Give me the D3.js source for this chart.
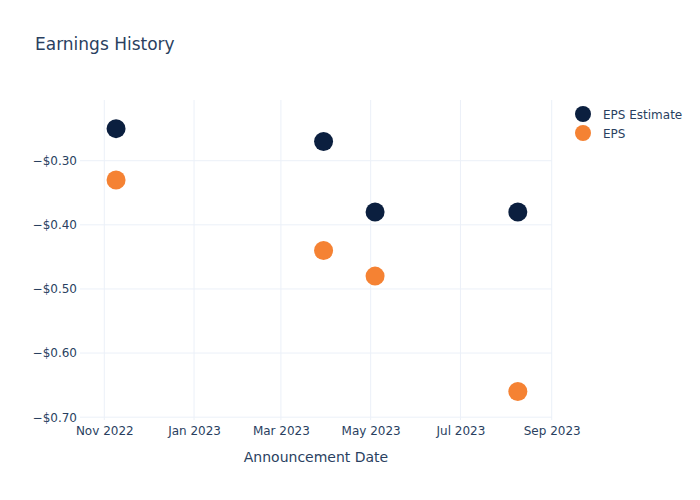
<!DOCTYPE html>
<html>
<head>
<meta charset="utf-8">
<script src="https://cdn.jsdelivr.net/npm/d3@7"></script>
<style>
  body { margin: 0; background: #fff; }
  svg, svg text { font-family: "DejaVu Sans", Verdana, sans-serif; }
</style>
</head>
<body>
<svg id="chart" width="700" height="500"></svg>
<script>
const dates = ["2022-11-09", "2023-03-30", "2023-05-04", "2023-08-09"];
const epsEstimate = [-0.25, -0.27, -0.38, -0.38];
const eps = [-0.33, -0.44, -0.48, -0.66];
const seriesNames = ["EPS Estimate", "EPS"];
const seriesColors = ["#0b1f3f", "#f58233"];
const yTicks = [-0.3, -0.4, -0.5, -0.6, -0.7];

const svg = d3.select("#chart");
const margin = { left: 80, right: 148, top: 100, bottom: 80 };
const W = 700, H = 500;
const textColor = "#2a3f5f";
const gridColor = "#ebf0f8";
const FONT = '"DejaVu Sans", Verdana, sans-serif';

const parse = d3.utcParse("%Y-%m-%d");
const x = d3.scaleUtc()
  .domain([Date.UTC(2022, 9, 15, 12), Date.UTC(2023, 8, 1, 5)])
  .range([margin.left, W - margin.right]);
const y = d3.scaleLinear()
  .domain([-0.7055, -0.2064])
  .range([H - margin.bottom + 0.7, margin.top + 0.7]);

// grid
const xTicks = x.ticks(d3.utcMonth.every(2));
svg.append("g").selectAll("line").data(xTicks).join("line")
  .attr("x1", d => x(d)).attr("x2", d => x(d))
  .attr("y1", margin.top).attr("y2", H - margin.bottom)
  .attr("stroke", gridColor).attr("stroke-width", 1);
svg.append("g").selectAll("line").data(yTicks).join("line")
  .attr("x1", margin.left).attr("x2", W - margin.right)
  .attr("y1", d => y(d)).attr("y2", d => y(d))
  .attr("stroke", gridColor).attr("stroke-width", 1);

// axes
const fmtY = v => "\u2212$" + Math.abs(v).toFixed(2);
const yAxis = svg.append("g")
  .attr("transform", `translate(${margin.left},0)`)
  .call(d3.axisLeft(y).tickValues(yTicks).tickFormat(fmtY).tickSize(0).tickPadding(3))
  .attr("font-family", FONT).attr("font-size", 12);
yAxis.select(".domain").remove();
yAxis.selectAll("text").attr("fill", textColor);

const xAxis = svg.append("g")
  .attr("transform", `translate(0,${H - margin.bottom})`)
  .call(d3.axisBottom(x).tickValues(xTicks).tickFormat(d3.utcFormat("%b %Y")).tickSize(0).tickPadding(6))
  .attr("font-family", FONT).attr("font-size", 12);
xAxis.select(".domain").remove();
xAxis.selectAll("text").attr("fill", textColor);

// points
const series = [epsEstimate, eps];
series.forEach((vals, i) => {
  svg.append("g").selectAll("circle").data(vals).join("circle")
    .attr("cx", (d, j) => x(parse(dates[j])))
    .attr("cy", d => y(d))
    .attr("r", 9.5)
    .attr("fill", seriesColors[i]);
});

// title
svg.append("text").attr("x", 35).attr("y", 50)
  .attr("fill", textColor).attr("font-size", 17).text("Earnings History");

// x axis title
svg.append("text").attr("x", (margin.left + W - margin.right) / 2).attr("y", 462)
  .attr("text-anchor", "middle").attr("fill", textColor).attr("font-size", 14)
  .text("Announcement Date");

// legend
const leg = svg.append("g");
seriesNames.forEach((name, i) => {
  leg.append("circle").attr("cx", 583).attr("cy", 114 + i * 19).attr("r", 8)
    .attr("fill", seriesColors[i]);
  leg.append("text").attr("x", 603).attr("y", 118.5 + i * 19)
    .attr("fill", textColor).attr("font-size", 12).text(name);
});
</script>
</body>
</html>
